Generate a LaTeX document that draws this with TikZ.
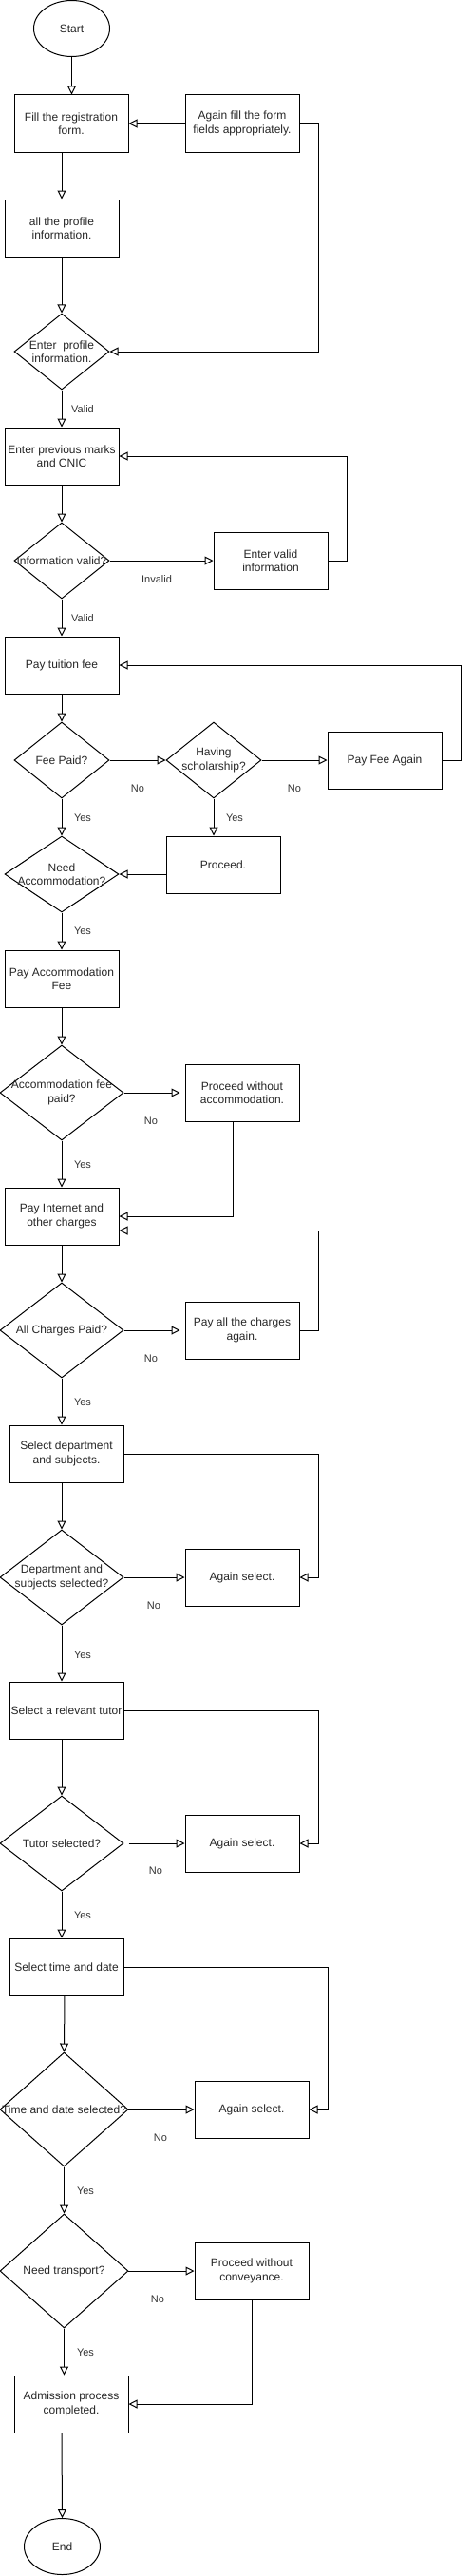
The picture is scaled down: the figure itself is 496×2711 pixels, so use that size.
\documentclass[tikz,border=0pt]{standalone}
\usepackage{fontspec}
\setmainfont{Liberation Sans}
\usetikzlibrary{shapes.geometric,arrows.meta}
\begin{document}
\begin{tikzpicture}[x=1pt,y=-1pt,
  line width=1pt,
  txt/.style={font=\fontsize{12}{14.5}\selectfont, text=black!85, align=center},
  lbl/.style={font=\fontsize{11}{13}\selectfont, text=black!80, inner sep=0pt},
  box/.style={txt, draw=black, rectangle, minimum width=120pt, minimum height=60pt, inner sep=0pt},
  term/.style={txt, draw=black, ellipse, minimum width=80pt, minimum height=59pt, inner sep=0pt},
  dia/.style={draw=black, diamond, inner sep=0pt},
  arr/.style={draw=black, -{Triangle[open,length=9pt,width=9pt]}}
]
\useasboundingbox (0,0) rectangle (496,2711);

% nodes
\node[term] (start) at (75.5,30) {Start};
\node[box] (fill) at (75,130) {Fill the registration\\form.};
\node[box] (again1) at (255,130) {Again fill the form\\fields appropriately.};
\node[box] (prof) at (65,240) {all the profile\\information.};
\node[dia, minimum width=100pt, minimum height=80pt, label={[txt]center:Enter \ profile\\information.}] (d1) at (65,370) {};
\node[box] (marks) at (65,480) {Enter previous marks\\and CNIC};
\node[dia, minimum width=100pt, minimum height=80pt, label={[txt]center:Information valid?}] (d2) at (65,590) {};
\node[box] (valinf) at (285,590) {Enter valid\\information};
\node[box] (tuition) at (65,700) {Pay tuition fee};
\node[dia, minimum width=100pt, minimum height=80pt, label={[txt]center:Fee Paid?}] (feepaid) at (65,800) {};
\node[dia, minimum width=100pt, minimum height=80pt, label={[txt]center:Having\\scholarship?}] (schol) at (225,800) {};
\node[box] (payagain) at (405,800) {Pay Fee Again};
\node[dia, minimum width=120pt, minimum height=80pt, label={[txt]center:Need\\Accommodation?}] (needacc) at (65,920) {};
\node[box] (proceed) at (235,910) {Proceed.};
\node[box] (payacc) at (65,1030) {Pay Accommodation\\Fee};
\node[dia, minimum width=130pt, minimum height=100pt, label={[txt]center:Accommodation fee\\paid?}] (accpaid) at (65,1150) {};
\node[box] (pwa) at (255,1150) {Proceed without\\accommodation.};
\node[box] (internet) at (65,1280) {Pay Internet and\\other charges};
\node[dia, minimum width=130pt, minimum height=100pt, label={[txt]center:All Charges Paid?}] (allpaid) at (65,1400) {};
\node[box] (payall) at (255,1400) {Pay all the charges\\again.};
\node[box] (seldept) at (70,1530) {Select department\\and subjects.};
\node[dia, minimum width=130pt, minimum height=100pt, label={[txt]center:Department and\\subjects selected?}] (deptsel) at (65,1660) {};
\node[box] (againsel1) at (255,1660) {Again select.};
\node[box] (tutor) at (70,1800) {Select a relevant tutor};
\node[dia, minimum width=130pt, minimum height=100pt, label={[txt]center:Tutor selected?}] (tutsel) at (65,1940) {};
\node[box] (againsel2) at (255,1940) {Again select.};
\node[box] (seltime) at (70,2070) {Select time and date};
\node[dia, minimum width=135pt, minimum height=120pt, label={[txt]center:Time and date selected?}] (timesel) at (67.5,2220) {};
\node[box] (againsel3) at (265,2220) {Again select.};
\node[dia, minimum width=135pt, minimum height=120pt, label={[txt]center:Need transport?}] (transport) at (67.5,2390) {};
\node[box] (pwc) at (265,2390) {Proceed without\\conveyance.};
\node[box] (admit) at (75,2530) {Admission process\\completed.};
\node[term] (end) at (65.5,2680) {End};

% connectors
\draw[arr] (start.south) -- (start.south |- fill.north);
\draw[arr] (again1.west) -- (fill.east);
\draw[arr] (again1.east) -- ++(20,0) |- (d1.east);
\draw[arr] ([xshift=-10pt]fill.south) -- (prof.north);
\draw[arr] (prof) -- (d1);
\draw[arr] (d1) -- (marks) node[lbl] at (87,431) {Valid};
\draw[arr] (marks) -- (d2);
\draw[arr] (d2) -- (valinf) node[lbl] at (165,610) {Invalid};
\draw[arr] (valinf.east) -- ++(20,0) |- (marks.east);
\draw[arr] (d2) -- (tuition) node[lbl] at (87,651) {Valid};
\draw[arr] (tuition) -- (feepaid);
\draw[arr] (feepaid) -- (schol) node[lbl] at (145,830) {No};
\draw[arr] (schol) -- (payagain) node[lbl] at (310,830) {No};
\draw[arr] (payagain.east) -- ++(20,0) |- (tuition.east);
\draw[arr] (feepaid) -- (needacc) node[lbl] at (87,861) {Yes};
\draw[arr] (schol.south) -- (schol.south |- proceed.north) node[lbl] at (247,861) {Yes};
\draw[arr] ([yshift=-10pt]proceed.west) -- (needacc.east);
\draw[arr] (needacc) -- (payacc) node[lbl] at (87,980) {Yes};
\draw[arr] (payacc) -- (accpaid);
\draw[arr] (accpaid.east) -- ([xshift=-5pt]pwa.west) node[lbl] at (159,1180) {No};
\draw[arr] ([xshift=-10pt]pwa.south) |- (internet.east);
\draw[arr] (accpaid) -- (internet) node[lbl] at (87,1226) {Yes};
\draw[arr] (internet) -- (allpaid);
\draw[arr] (allpaid.east) -- ([xshift=-5pt]payall.west) node[lbl] at (159,1430) {No};
\draw[arr] (payall.east) -- ++(20,0) |- ([yshift=-15pt]internet.east);
\draw[arr] (allpaid.south) -- (allpaid.south |- seldept.north) node[lbl] at (87,1476) {Yes};
\draw[arr] (seldept.east) -- ++(205,0) |- (againsel1.east);
\draw[arr] ([xshift=-5pt]seldept.south) -- (deptsel.north);
\draw[arr] (deptsel) -- (againsel1) node[lbl] at (162,1690) {No};
\draw[arr] (deptsel.south) -- (deptsel.south |- tutor.north) node[lbl] at (87,1742) {Yes};
\draw[arr] (tutor.east) -- ++(205,0) |- (againsel2.east);
\draw[arr] ([xshift=-5pt]tutor.south) -- (tutsel.north);
\draw[arr] ([xshift=5pt]tutsel.east) -- (againsel2.west) node[lbl] at (164,1969) {No};
\draw[arr] (tutsel.south) -- (tutsel.south |- seltime.north) node[lbl] at (87,2016) {Yes};
\draw[arr] (seltime.east) -- ++(215,0) |- (againsel3.east);
\draw[arr] ([xshift=-2pt]seltime.south) -- (timesel.north);
\draw[arr] (timesel) -- (againsel3) node[lbl] at (169,2250) {No};
\draw[arr] (timesel) -- (transport) node[lbl] at (90,2306) {Yes};
\draw[arr] (transport) -- (pwc) node[lbl] at (166,2420) {No};
\draw[arr] (pwc.south) |- (admit.east);
\draw[arr] (transport.south) -- (transport.south |- admit.north) node[lbl] at (90,2476) {Yes};
\draw[arr] ([xshift=-10pt]admit.south) -- (end.north);
\end{tikzpicture}
\end{document}
